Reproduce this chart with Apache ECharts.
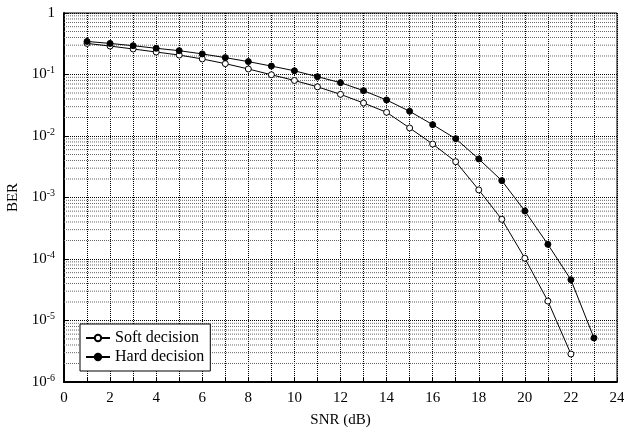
<!DOCTYPE html>
<html>
<head>
<meta charset="utf-8">
<script src="https://cdn.jsdelivr.net/npm/echarts@6/dist/echarts.min.js"></script>
<style>
    html, body { margin: 0; padding: 0; background: #fff; }
    #chart { width: 624px; height: 434px; }
</style>
</head>
<body>
<div id="chart"></div>
<script>
// SNR 横轴
var snrSoft = [1, 2, 3, 4, 5, 6, 7, 8, 9, 10, 11, 12, 13, 14, 15, 16, 17, 18, 19, 20, 21, 22];
var snrHard = [1, 2, 3, 4, 5, 6, 7, 8, 9, 10, 11, 12, 13, 14, 15, 16, 17, 18, 19, 20, 21, 22, 23];

// BER 数据
var berSoft = [0.32, 0.29, 0.26, 0.232, 0.207, 0.179, 0.15, 0.123, 0.099, 0.080, 0.063,
    0.0476, 0.0344, 0.0243, 0.0135, 0.0074, 0.00382, 0.00133, 0.000442, 0.000103,
    2.07e-5, 2.85e-6];
var berHard = [0.345, 0.32, 0.294, 0.267, 0.244, 0.216, 0.188, 0.162, 0.137, 0.115, 0.092,
    0.0736, 0.0546, 0.0385, 0.0252, 0.0153, 0.00904, 0.00423, 0.00188, 0.000603,
    0.000173, 4.6e-5, 5.2e-6];

var seriesNames = ['Soft decision', 'Hard decision'];

// 对数轴的次网格 (2..9 x 10^k)
var minorValues = [];
for (var k = -6; k < 0; k++) {
    for (var m = 2; m <= 9; m++) {
        minorValues.push(m * Math.pow(10, k));
    }
}

var font = 'Liberation Serif';

function pairs (xs, ys) {
    return xs.map(function (x, i) { return [x, ys[i]]; });
}

// 次网格: 每条横线两点, 中间用 '-' 断开
var minorData = [];
minorValues.forEach(function (v) {
    minorData.push([0, v], [24, v], [24, '-']);
});

var chart = echarts.init(document.getElementById('chart'));

chart.setOption({
    animation: false,
    textStyle: { fontFamily: font },
    grid: {
        left: 64, right: 7, top: 13, bottom: 52,
        containLabel: false,
        outerBoundsMode: 'none',
        show: true, borderColor: '#000', borderWidth: 1
    },
    legend: {
        orient: 'vertical',
        left: 80, top: 324,
        padding: [6, 6, 6, 5],
        itemGap: 3,
        itemWidth: 24,
        itemHeight: 8,
        backgroundColor: '#fff',
        borderColor: '#000',
        borderWidth: 1,
        borderRadius: 0,
        textStyle: { fontFamily: font, fontSize: 16, color: '#000' },
        data: seriesNames
    },
    xAxis: {
        type: 'value',
        min: 0, max: 24, interval: 1,
        name: 'SNR (dB)',
        nameLocation: 'middle',
        nameGap: 31,
        nameTextStyle: { fontFamily: font, fontSize: 15, color: '#000' },
        axisLine: { lineStyle: { color: '#000', width: 2 } },
        axisTick: { inside: true, length: 4, lineStyle: { color: '#000' } },
        axisLabel: {
            margin: 9,
            fontFamily: font, fontSize: 15, color: '#000',
            formatter: function (v) { return v % 2 === 0 ? String(v) : ''; }
        },
        splitLine: { show: true, lineStyle: { color: '#000', type: 'dotted', width: 1 } }
    },
    yAxis: {
        type: 'log',
        logBase: 10,
        min: 1e-6, max: 1,
        name: 'BER',
        nameLocation: 'middle',
        nameGap: 41,
        nameTextStyle: { fontFamily: font, fontSize: 15, color: '#000' },
        axisLine: { lineStyle: { color: '#000', width: 2 } },
        axisTick: { inside: true, length: 4, lineStyle: { color: '#000' } },
        axisLabel: {
            margin: 9,
            fontFamily: font, fontSize: 15, color: '#000',
            formatter: function (v) {
                var e = Math.round(Math.log10(v));
                return e === 0 ? '1' : '10{sup|' + e + '}';
            },
            rich: {
                sup: { fontFamily: font, fontSize: 10, color: '#000', verticalAlign: 'top', padding: [0, 0, 8, 0] }
            }
        },
        splitLine: { show: true, lineStyle: { color: '#000', type: 'dotted', width: 1 } }
    },
    series: [
        {
            // 次网格线
            type: 'line',
            data: minorData,
            silent: true,
            symbol: 'none',
            connectNulls: false,
            lineStyle: { color: '#666', type: 'dotted', width: 1 },
            z: 1
        },
        {
            name: seriesNames[0],
            type: 'line',
            data: pairs(snrSoft, berSoft),
            symbol: 'circle',
            symbolSize: 6,
            lineStyle: { color: '#000', width: 1 },
            itemStyle: { color: '#fff', borderColor: '#000', borderWidth: 1 },
            z: 5
        },
        {
            name: seriesNames[1],
            type: 'line',
            data: pairs(snrHard, berHard),
            symbol: 'circle',
            symbolSize: 6,
            lineStyle: { color: '#000', width: 1 },
            itemStyle: { color: '#000', borderColor: '#000', borderWidth: 1 },
            z: 5
        }
    ]
});
</script>
</body>
</html>
